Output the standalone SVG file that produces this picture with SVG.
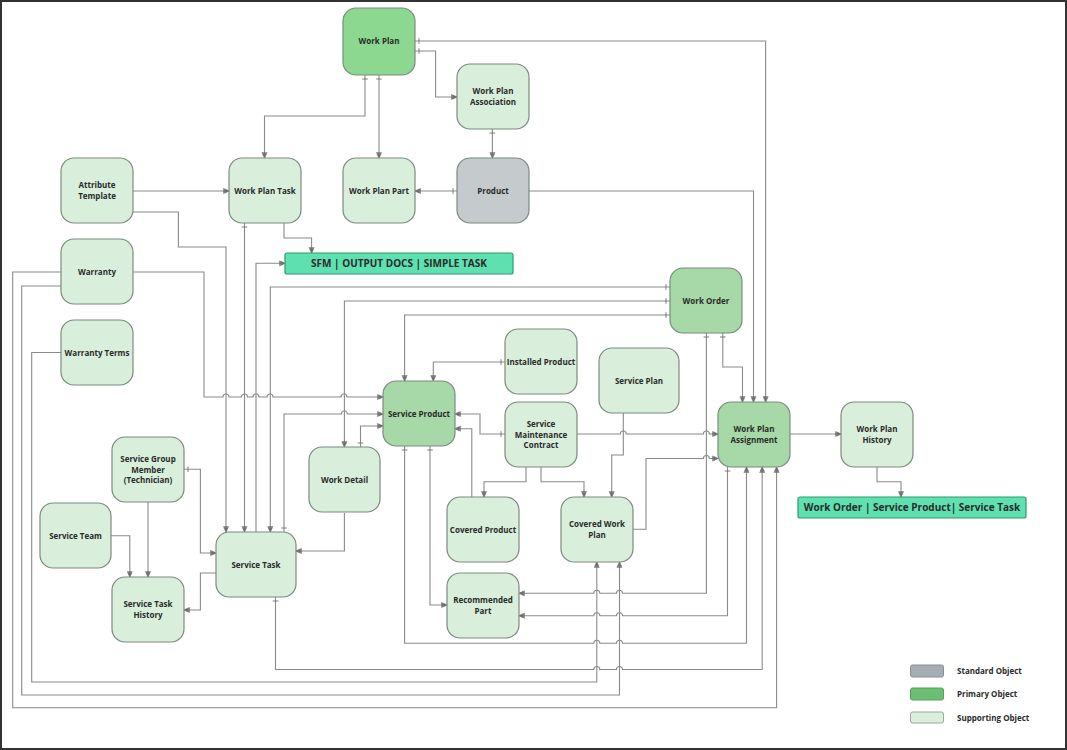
<svg xmlns="http://www.w3.org/2000/svg" width="1067" height="750" viewBox="0 0 1067 750">
<style>
.n rect{stroke:#7d8a7f;stroke-width:1.2}
.s{fill:#d9efdb}
.p{fill:#a6d8a8}
.w{fill:#8cd891}
.g{fill:#c5cacd}
text{font-family:"Open Sans","Liberation Sans",sans-serif;font-weight:bold;font-size:8px;fill:#2a2a2a;text-anchor:middle}
.big{font-size:10px}
.lg{text-anchor:start;font-size:8px}
#connectors path{fill:none;stroke:#8a8a8a;stroke-width:1.1}
.e{marker-end:url(#arr)}
.b{marker-start:url(#tick)}
</style>
<defs>
<marker id="arr" markerUnits="userSpaceOnUse" viewBox="-8 -4 9 8" refX="0" refY="0" markerWidth="9" markerHeight="8" orient="auto-start-reverse">
<path d="M-4.5,-2.2 L0,0 L-4.5,2.2 Z M-5.5,-2.8 V2.8" fill="#6f6f6f" stroke="#6f6f6f" stroke-width="0.7"/>
</marker>
<marker id="tick" markerUnits="userSpaceOnUse" viewBox="-8 -4 9 8" refX="0" refY="0" markerWidth="9" markerHeight="8" orient="auto-start-reverse">
<path d="M-4,-2.8 V2.8" fill="none" stroke="#6f6f6f" stroke-width="0.9"/>
</marker>
</defs>
<rect x="1" y="1" width="1065" height="748" fill="#fff" stroke="#333" stroke-width="2"/>

<g id="connectors">
<path class="b e" d="M365,75 V116 H264.5 V158"/>
<path class="b e" d="M379,75 V158"/>
<path class="b e" d="M415,41 H765.6 V402"/>
<path class="b e" d="M415,51 H435.6 V97 H457"/>
<path class="b e" d="M492.4,129 V158"/>
<path class="e" d="M133,191 H229"/>
<path class="b e" d="M457,191 H415"/>
<path class="e" d="M133,212 H178.4 V247 H226 V532"/>
<path class="b e" d="M244.5,223 V532"/>
<path class="e" d="M284,223 V238 H311.6 V253"/>
<path class="e" d="M256,532 V263.3 H285"/>
<path class="e" d="M529,191 H753.5 V402"/>
<path class="e" d="M133,272 H204 V397 H223 a3,3 0 0 1 6,0 H241.5 a3,3 0 0 1 6,0 H253 a3,3 0 0 1 6,0 H267 a3,3 0 0 1 6,0 H341 a3,3 0 0 1 6,0 H383"/>
<path class="e" d="M61,272 H12.7 V707.7 H776.6 V467"/>
<path class="e" d="M61,286 H21.7 V695 H619.5 V562"/>
<path class="e" d="M61,352.5 H31.7 V682 H596.8 V562"/>
<path class="b e" d="M670,287 H270.3 V532"/>
<path class="b e" d="M670,301 H344.4 V447"/>
<path class="b e" d="M670,315 H404.6 V381"/>
<path class="b e" d="M505,362 H433.3 V381"/>
<path class="e b" d="M284,532 V414 H341.4 a3,3 0 0 1 6,0 H383"/>
<path class="e b" d="M360.5,447 V426 H383"/>
<path class="b e" d="M505,434 H480 V414 H455"/>
<path class="e" d="M471.8,497 V428.7 H455"/>
<path class="e" d="M526,467 V481.7 H484 V497"/>
<path class="e" d="M541,467 V481.7 H584 V497"/>
<path class="e" d="M623.3,413 V455 H611.7 V497"/>
<path class="e" d="M577,434 H620.3 a3,3 0 0 1 6,0 H703.4 a3,3 0 0 1 6,0 H718"/>
<path class="e" d="M633,529.3 H646 V458.5 H703.4 a3,3 0 0 1 6,0 H718"/>
<path class="e" d="M790,434 H841"/>
<path class="e" d="M877,467 V481.7 H901 V497"/>
<path class="b e" d="M722.8,333 V367 H742.5 V402"/>
<path class="b e" d="M706.4,333 V593.3 H622.5 a3,3 0 0 0 -6,0 H599.8 a3,3 0 0 0 -6,0 H519"/>
<path class="b e" d="M727.5,467 V615.7 H622.5 a3,3 0 0 0 -6,0 H599.8 a3,3 0 0 0 -6,0 H519"/>
<path class="b e" d="M404.6,446 V643.3 H593.8 a3,3 0 0 1 6,0 H616.5 a3,3 0 0 1 6,0 H746.5 V467"/>
<path class="b e" d="M275.5,597 V669.5 H593.8 a3,3 0 0 1 6,0 H616.5 a3,3 0 0 1 6,0 H762.2 V467"/>
<path class="b e" d="M430,446 V605 H447"/>
<path class="b e" d="M184,469.3 H200.4 V553 H216"/>
<path class="e" d="M216,573 H200.4 V610 H184"/>
<path class="e" d="M148,502 V577"/>
<path class="e" d="M111,535.7 H129.8 V577"/>
<path class="e" d="M344.4,513 V551 H296"/>
</g>

<g id="work-plan" class="n"><rect class="w" x="343" y="8" width="72" height="67" rx="13"/><text x="379" y="43.5">Work Plan</text></g>
<g id="work-plan-association" class="n"><rect class="s" x="457" y="64" width="72" height="65" rx="13"/><text x="493" y="94">Work Plan</text><text x="493" y="104.5">Association</text></g>
<g id="attribute-template" class="n"><rect class="s" x="61" y="158" width="72" height="65" rx="13"/><text x="97" y="188">Attribute</text><text x="97" y="198.5">Template</text></g>
<g id="work-plan-task" class="n"><rect class="s" x="229" y="158" width="72" height="65" rx="13"/><text x="265" y="193.5">Work Plan Task</text></g>
<g id="work-plan-part" class="n"><rect class="s" x="343" y="158" width="72" height="65" rx="13"/><text x="379" y="193.5">Work Plan Part</text></g>
<g id="product" class="n"><rect class="g" x="457" y="158" width="72" height="65" rx="13"/><text x="493" y="193.5">Product</text></g>
<g id="sfm" class="n"><rect x="285" y="253" width="228" height="21" rx="2" style="fill:#5fe0b1;stroke:#2f9a70"/><text class="big" x="399" y="267">SFM | OUTPUT DOCS | SIMPLE TASK</text></g>
<g id="warranty" class="n"><rect class="s" x="61" y="239" width="72" height="65" rx="13"/><text x="97" y="274.5">Warranty</text></g>
<g id="warranty-terms" class="n"><rect class="s" x="61" y="320" width="72" height="65" rx="13"/><text x="97" y="355.5">Warranty Terms</text></g>
<g id="work-order" class="n"><rect class="p" x="670" y="268" width="72" height="65" rx="13"/><text x="706" y="303.5">Work Order</text></g>
<g id="installed-product" class="n"><rect class="s" x="505" y="329" width="72" height="65" rx="13"/><text x="541" y="364.5">Installed Product</text></g>
<g id="service-plan" class="n"><rect class="s" x="599" y="348" width="80" height="65" rx="13"/><text x="639" y="383.5">Service Plan</text></g>
<g id="service-product" class="n"><rect class="p" x="383" y="381" width="72" height="65" rx="13"/><text x="419" y="416.5">Service Product</text></g>
<g id="service-maintenance-contract" class="n"><rect class="s" x="505" y="402" width="72" height="65" rx="13"/><text x="541" y="426.5">Service</text><text x="541" y="437.5">Maintenance</text><text x="541" y="448">Contract</text></g>
<g id="work-plan-assignment" class="n"><rect class="p" x="718" y="402" width="72" height="65" rx="13"/><text x="754" y="432">Work Plan</text><text x="754" y="442.5">Assignment</text></g>
<g id="work-plan-history" class="n"><rect class="s" x="841" y="402" width="72" height="65" rx="13"/><text x="877" y="432">Work Plan</text><text x="877" y="442.5">History</text></g>
<g id="wo-sp-st" class="n"><rect x="798" y="497" width="228" height="21" rx="2" style="fill:#5fe0b1;stroke:#2f9a70"/><text class="big" x="912" y="511">Work Order | Service Product| Service Task</text></g>
<g id="work-detail" class="n"><rect class="s" x="309" y="447" width="71" height="65" rx="13"/><text x="344.5" y="482.5">Work Detail</text></g>
<g id="service-group-member" class="n"><rect class="s" x="112" y="437" width="72" height="65" rx="13"/><text x="148" y="461.5">Service Group</text><text x="148" y="472.5">Member</text><text x="148" y="483">(Technician)</text></g>
<g id="service-team" class="n"><rect class="s" x="40" y="503" width="71" height="65" rx="13"/><text x="75.5" y="538.5">Service Team</text></g>
<g id="service-task" class="n"><rect class="s" x="216" y="532" width="80" height="65" rx="13"/><text x="256" y="567.5">Service Task</text></g>
<g id="service-task-history" class="n"><rect class="s" x="112" y="577" width="72" height="65" rx="13"/><text x="148" y="607">Service Task</text><text x="148" y="617.5">History</text></g>
<g id="covered-product" class="n"><rect class="s" x="447" y="497" width="72" height="65" rx="13"/><text x="483" y="532.5">Covered Product</text></g>
<g id="covered-work-plan" class="n"><rect class="s" x="561" y="497" width="72" height="65" rx="13"/><text x="597" y="527">Covered Work</text><text x="597" y="537.5">Plan</text></g>
<g id="recommended-part" class="n"><rect class="s" x="447" y="573" width="72" height="65" rx="13"/><text x="483" y="603">Recommended</text><text x="483" y="613.5">Part</text></g>

<g id="legend">
<rect x="910.5" y="665" width="33" height="12" rx="2" fill="#a5aeb5" stroke="#8a8f94"/>
<text class="lg" x="957" y="673.5">Standard Object</text>
<rect x="910.5" y="688" width="33" height="12" rx="2" fill="#6bbf70" stroke="#5a9c5e"/>
<text class="lg" x="957" y="696.5">Primary Object</text>
<rect x="910.5" y="712" width="33" height="11" rx="2" fill="#d9efdb" stroke="#9aa89c"/>
<text class="lg" x="957" y="720.5">Supporting Object</text>
</g>
</svg>
